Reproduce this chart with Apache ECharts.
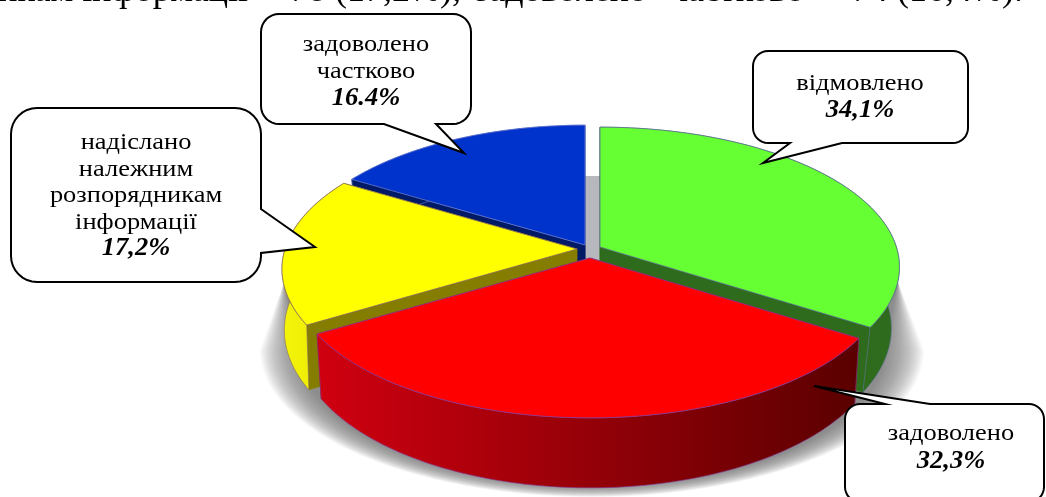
<!DOCTYPE html>
<html><head><meta charset="utf-8">
<style>html,body{margin:0;padding:0;background:#fff;overflow:hidden}#c{width:1046px;height:497px}</style>
<script src="https://cdn.jsdelivr.net/npm/echarts@6/dist/echarts.min.js"></script>
</head><body><div id="c"></div>
<script>
// ---- data ----
const categories = ['відмовлено', 'задоволено', 'надіслано належним розпорядникам інформації', 'задоволено частково'];
const values = [34.1, 32.3, 17.2, 16.4];
const percentLabels = ['34,1%', '32,3%', '17,2%', '16.4%'];
const headlineParts = ['икам інформації', '– 78', '(17,2%),', 'задоволено', 'частково', '– 74', '(16,4%).'];

// ---- styles & layout (no values) ----
const headlineX = [[248, 'right'], [326, 'right'], [335, 'left'], [475, 'left'], [670, 'left'], [888, 'right'], [897, 'left']];
const topColors = ['#66ff33', '#ff0000', '#ffff00', '#0033cc'];
const edgeColors = ['#5a7090', '#8a3a9a', '#8a6a60', '#6a7ad0'];
const faceColors = ['#2f6b1c', '#8a0000', '#857d00', '#001a66'];
const wallColors = [['#33701e', '#2f6b1c'], ['#d00010', '#5a0000'], ['#f4f40a', '#e8e800'], ['#001a66', '#001a66']];
const sliceOrigins = [[600, 247], [590, 258], [577, 249], [585, 245]];
const sliceScale = [1.015, 1.01, 1, 1];
const sliceShrink = [0.027, 0.015, 0.008, 0.02];
const drawOrder = [1, 3, 2, 0];       // painter's order: z rank per slice
const A = 137, B = 292, K = 0.143, D = 60;

function project(i, angle, r, h) {
  const o = sliceOrigins[i];
  const X = Math.sin(angle) * r, Y = -Math.cos(angle) * r, den = 1 - K * Y;
  return [o[0] + B * sliceScale[i] * X / den * (1 - sliceShrink[i] * h), o[1] + (A * Y + D * h) / den];
}
function arc(i, a0, a1, h) {
  const n = Math.max(4, Math.ceil((a1 - a0) / 0.02)), pts = [];
  for (let k = 0; k <= n; k++) pts.push(project(i, a0 + (a1 - a0) * k / n, 1, h));
  return pts;
}
const total = values.reduce((a, b) => a + b, 0);
function renderSlice(params, api) {
  const i = params.dataIndex;
  let before = 0;
  for (let j = 0; j < i; j++) before += values[j];
  const a0 = before / total * 2 * Math.PI, a1 = (before + api.value(0)) / total * 2 * Math.PI;
  const z = drawOrder[i] * 10;
  const topArc = arc(i, a0, a1, 0), botArc = arc(i, a0, a1, 1);
  const ctr0 = project(i, 0, 0, 0), ctr1 = project(i, 0, 0, 1);
  const stroke = edgeColors[i];
  const face = (ang) => ({
    type: 'polygon', z2: z + 1,
    shape: { points: [ctr0, project(i, ang, 1, 0), project(i, ang, 1, 1), ctr1] },
    style: { fill: faceColors[i], stroke: faceColors[i], lineWidth: 0.5 }
  });
  return {
    type: 'group',
    children: [
      face(a0), face(a1),
      { type: 'polygon', z2: z + 2,
        shape: { points: topArc.concat(botArc.slice().reverse()) },
        style: { fill: { type: 'linear', x: 0, y: 0, x2: 1, y2: 0, colorStops: [
          { offset: 0, color: wallColors[i][0] }, { offset: 1, color: wallColors[i][1] }] },
          stroke: stroke, lineWidth: 0.6 } },
      { type: 'polygon', z2: z + 3,
        shape: { points: [ctr0].concat(topArc) },
        style: { fill: topColors[i], stroke: stroke, lineWidth: 0.8 } }
    ]
  };
}

// rounded callout outline with a tail
function callout(l, t, r, b, rad, tail) {
  const pts = [];
  const corner = (cx, cy, s) => { for (let k = 0; k <= 8; k++) { const a = s + k / 8 * Math.PI / 2; pts.push([cx + rad * Math.cos(a), cy + rad * Math.sin(a)]); } };
  corner(l + rad, t + rad, Math.PI);
  if (tail.side === 'top') pts.push(...tail.pts);
  corner(r - rad, t + rad, -Math.PI / 2);
  if (tail.side === 'right') pts.push(...tail.pts);
  corner(r - rad, b - rad, 0);
  if (tail.side === 'bottom') pts.push(...tail.pts);
  corner(l + rad, b - rad, Math.PI / 2);
  return pts;
}
const bubbleStyle = { fill: '#fff', stroke: '#000', lineWidth: 2, lineJoin: 'miter' };
function bubble(pts) { return { type: 'polygon', z: 50, shape: { points: pts }, style: bubbleStyle }; }
const FONT = '"Liberation Serif","Times New Roman",serif';
function textLines(cx, y0, lines, pct, lh) {
  const out = lines.map((s, i) => ({ type: 'text', z: 51, x: cx, y: y0 + i * lh, scaleX: 1.13,
    style: { text: s, fill: '#000', font: '23.4px ' + FONT, align: 'center', verticalAlign: 'middle' } }));
  out.push({ type: 'text', z: 51, x: cx, y: y0 + lines.length * lh, scaleX: 1.06,
    style: { text: pct, fill: '#000', font: 'italic bold 25px ' + FONT, align: 'center', verticalAlign: 'middle' } });
  return out;
}
// soft ground shadow: stacked translucent outlines
function shadowLayer(t) {
  const rx = 292 + 40 * t, ry = 136 + 11 * t, pts = [[284, 282]];
  for (let k = 0; k <= 120; k++) { const a = Math.PI - k / 120 * Math.PI; pts.push([592 + rx * Math.cos(a), 350 + ry * Math.sin(a)]); }
  pts.push([898, 282]);
  return { type: 'polygon', z: 1, shape: { points: pts }, style: { fill: 'rgba(112,114,118,0.034)' } };
}
const shadowLayers = [];
for (let i = 0; i <= 36; i++) shadowLayers.push(shadowLayer(i / 36));

const graphics = [
  ...shadowLayers,
  { type: 'rect', z: 1, shape: { x: 578, y: 176, width: 30, height: 90 }, style: { fill: '#b6b8be' } },
  bubble(callout(261, 14, 471, 124, 18, { side: 'bottom', pts: [[436, 124], [464, 153], [384, 124]] })),
  ...textLines(366, 45, ['задоволено', 'частково'], percentLabels[3], 27),
  bubble(callout(11, 108, 261, 282, 26, { side: 'right', pts: [[261, 209], [315, 247], [261, 253]] })),
  ...textLines(136, 143, ['надіслано', 'належним', 'розпорядникам', 'інформації'], percentLabels[2], 26.5),
  bubble(callout(753, 51, 968, 143, 15, { side: 'bottom', pts: [[842, 143], [763, 163], [790, 143]] })),
  ...textLines(860, 84, [categories[0]], percentLabels[0], 27),
  bubble(callout(845, 404, 1044, 502, 15, { side: 'top', pts: [[885, 404], [814, 386], [930, 404]] })),
  ...textLines(951, 434, [categories[1]], percentLabels[1], 28),
  ...headlineParts.map((s, i) => ({ type: 'text', z: 51, x: headlineX[i][0], y: -26,
    style: { text: s, fill: '#000', font: '36px ' + FONT, align: headlineX[i][1], verticalAlign: 'top' } }))
];

const chart = echarts.init(document.getElementById('c'), null, { renderer: 'canvas' });
chart.setOption({
  backgroundColor: '#fff',
  animation: false,
  tooltip: { show: false },
  graphic: { elements: graphics },
  series: [{
    type: 'custom', coordinateSystem: 'none', z: 10, silent: true,
    renderItem: renderSlice,
    dimensions: ['value'],
    data: values.map((v, i) => ({ name: categories[i], value: [v] }))
  }]
});
</script></body></html>
